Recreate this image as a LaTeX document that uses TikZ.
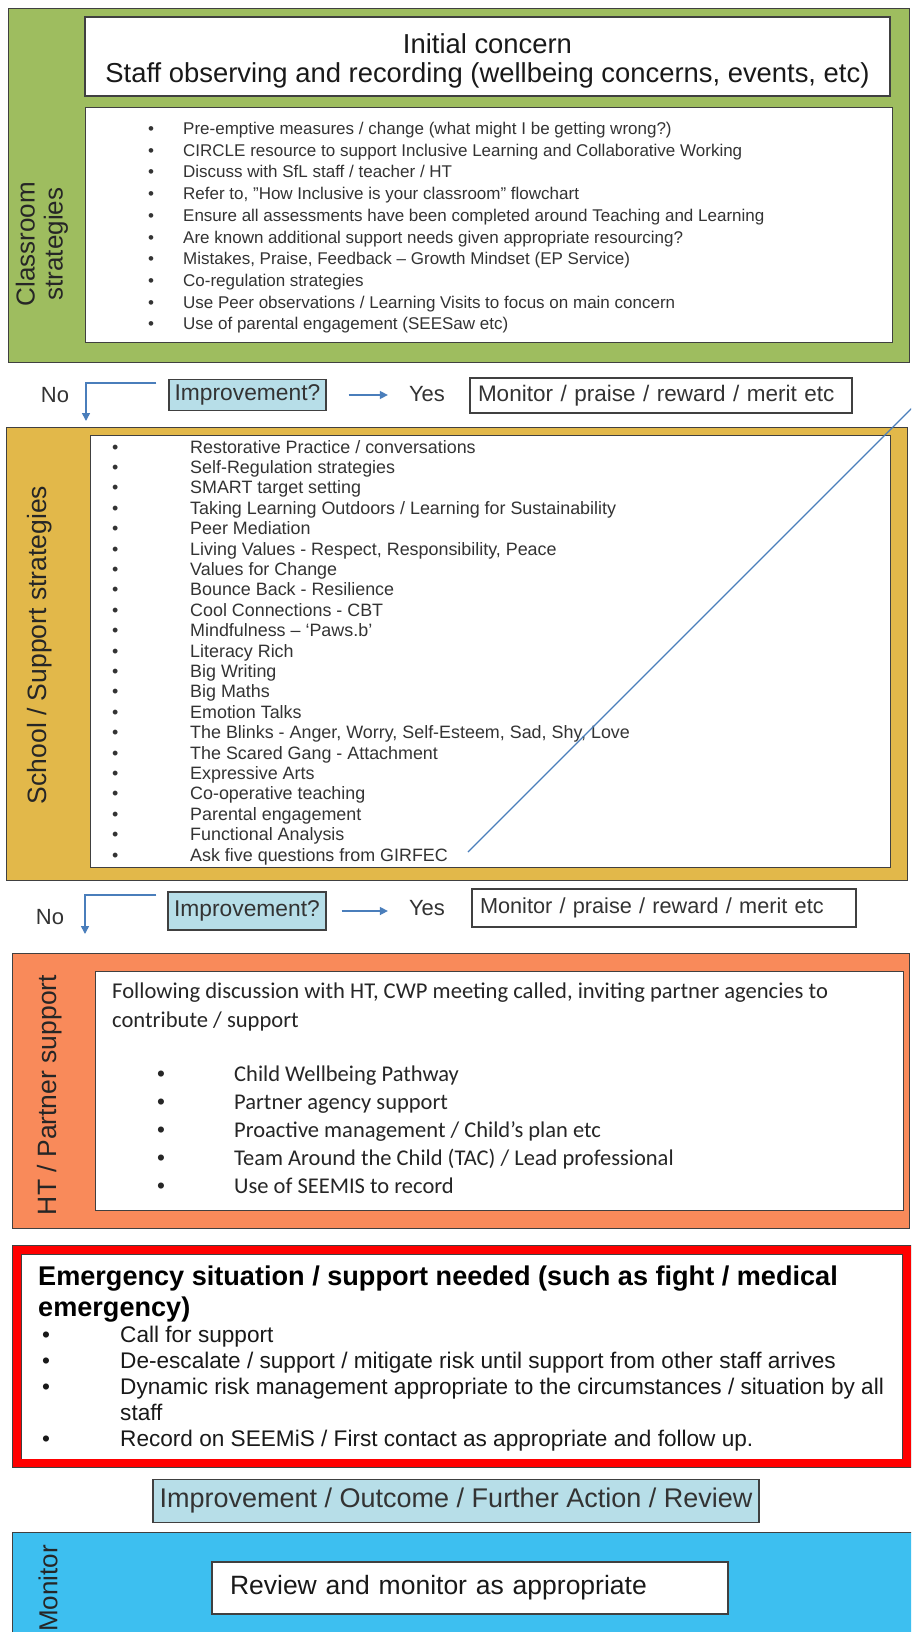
\documentclass[tikz,border=0pt]{standalone}
\usepackage{fontspec}
\setmainfont{Liberation Sans}
\newfontfamily\calibrifont{Carlito}
\newfontfamily\dotfont{Liberation Sans}
\usetikzlibrary{positioning,arrows.meta}

\definecolor{classgreen}{HTML}{9EBD5F}
\definecolor{schoolgold}{HTML}{E2B84A}
\definecolor{partnerorange}{HTML}{F98A5A}
\definecolor{alertred}{HTML}{FF0000}
\definecolor{monitorblue}{HTML}{3DBFF0}
\definecolor{askblue}{HTML}{B7DEE8}
\definecolor{arrowblue}{HTML}{4A7EBB}
\definecolor{edgegrey}{HTML}{404040}
\definecolor{inkgrey}{HTML}{333333}

\newcommand{\blt}[2][78pt]{\makebox[#1][l]{{\dotfont\textbullet}}#2}

\tikzstyle{panel} = [draw=edgegrey,line width=1pt,rectangle,anchor=north west,inner sep=0pt]
\tikzstyle{card} = [draw=edgegrey,line width=1.2pt,fill=white,rectangle,inner sep=0pt,text=inkgrey]
\tikzstyle{askbox} = [draw=edgegrey,line width=1.2pt,fill=askblue,rectangle,inner sep=0pt,text=inkgrey]
\tikzstyle{items} = [anchor=north west,align=left,inner sep=0pt,text=inkgrey]
\tikzstyle{sidelabel} = [rotate=90,inner sep=0pt,text=black!85]
\tikzstyle{plain} = [inner sep=0pt,text=inkgrey,font=\fontsize{22}{24}\selectfont]
\tikzstyle{flow} = [draw=arrowblue,line width=1.5pt,>={Triangle[length=8pt,width=8pt]}]
\tikzstyle{pointer} = [draw=arrowblue,line width=1.2pt]
\tikzstyle{alertbox} = [draw=edgegrey,line width=0.8pt,double=alertred,double distance=8pt,fill=white,rectangle,inner sep=0pt,anchor=north west]

\begin{document}
\begin{tikzpicture}[x=1pt,y=-1pt]
	\useasboundingbox (0,0) rectangle (911,1632);
	\clip (0,0) rectangle (911,1632);
	\fill [white] (0,0) rectangle (911,1632);
	% classroom strategies
	\node (classroom) [panel,fill=classgreen,minimum width=901pt,minimum height=354pt] at (8,8) {};
	\node (classlabel) [sidelabel,align=center,font=\fontsize{26}{28}\selectfont] at (42,244) {Classroom\\strategies};
	\node (concern) [card,minimum width=805pt,minimum height=79pt] at (487.5,56.5) {};
	\node (concerntext) [align=center,inner sep=0pt,text=black!90,font=\fontsize{27.4}{29}\selectfont] at ([yshift=-4pt]concern.center) {Initial concern\\Staff observing and recording (wellbeing concerns, events, etc)};
	\node (classlist) [card,anchor=north west,minimum width=807pt,minimum height=235pt] at (85,107) {};
	\node (classitems) [items,font=\fontsize{17}{21.7}\selectfont] at (148,122) {\blt[35pt]{Pre-emptive measures / change (what might I be getting wrong?)}\\
		\blt[35pt]{CIRCLE resource to support Inclusive Learning and Collaborative Working}\\
		\blt[35pt]{Discuss with SfL staff / teacher / HT}\\
		\blt[35pt]{Refer to, "How Inclusive is your classroom" flowchart}\\
		\blt[35pt]{Ensure all assessments have been completed around Teaching and Learning}\\
		\blt[35pt]{Are known additional support needs given appropriate resourcing?}\\
		\blt[35pt]{Mistakes, Praise, Feedback – Growth Mindset (EP Service)}\\
		\blt[35pt]{Co-regulation strategies}\\
		\blt[35pt]{Use Peer observations / Learning Visits to focus on main concern}\\
		\blt[35pt]{Use of parental engagement (SEESaw etc)}};
	% first check
	\node (impA) [askbox,minimum width=157pt,minimum height=31pt,font=\fontsize{22.8}{24}\selectfont] at (247.5,395) {Improvement?};
	\node (noA) [plain] at (55,395) {No};
	\node (yesA) [plain] at (427,394) {Yes};
	\node (monA) [card,text width=366pt,inner xsep=8pt,minimum height=35pt,align=left,font=\fontsize{22.5}{24}\selectfont] at (661,395.5) {Monitor / praise / reward / merit etc};
	\coordinate (noAtip) at (86,421);
	% school / support strategies
	\node (school) [panel,fill=schoolgold,minimum width=901pt,minimum height=453pt] at (6,427) {};
	\node (schoollabel) [sidelabel,font=\fontsize{26.5}{28}\selectfont] at (40,645) {School / Support strategies};
	\node (schoollist) [card,anchor=north west,minimum width=800pt,minimum height=432pt] at (90,435) {};
	\node (schoolitems) [items,font=\fontsize{17.9}{20.4}\selectfont] at (112,440) {\blt{Restorative Practice / conversations}\\
		\blt{Self-Regulation strategies}\\
		\blt{SMART target setting}\\
		\blt{Taking Learning Outdoors / Learning for Sustainability}\\
		\blt{Peer Mediation}\\
		\blt{Living Values - Respect, Responsibility, Peace}\\
		\blt{Values for Change}\\
		\blt{Bounce Back - Resilience}\\
		\blt{Cool Connections - CBT}\\
		\blt{Mindfulness – ‘Paws.b’}\\
		\blt{Literacy Rich}\\
		\blt{Big Writing}\\
		\blt{Big Maths}\\
		\blt{Emotion Talks}\\
		\blt{The Blinks - Anger, Worry, Self-Esteem, Sad, Shy, Love}\\
		\blt{The Scared Gang - Attachment}\\
		\blt{Expressive Arts}\\
		\blt{Co-operative teaching}\\
		\blt{Parental engagement}\\
		\blt{Functional Analysis}\\
		\blt{Ask five questions from GIRFEC}};
	\coordinate (girfec) at (468,852);
	\coordinate (offpage) at (935,385);
	% second check
	\node (impB) [askbox,minimum width=158pt,minimum height=38pt,font=\fontsize{22.8}{24}\selectfont] at (247,911) {Improvement?};
	\node (noB) [plain] at (50,917) {No};
	\node (yesB) [plain] at (427,908) {Yes};
	\node (monB) [card,text width=368pt,inner xsep=8pt,minimum height=38pt,align=left,font=\fontsize{21.7}{24}\selectfont] at (664,908) {Monitor / praise / reward / merit etc};
	\coordinate (noBtip) at (85,934);
	% HT / partner support
	\node (partner) [panel,fill=partnerorange,minimum width=897pt,minimum height=275pt] at (12,953) {};
	\node (partnerlabel) [sidelabel,font=\fontsize{26.5}{28}\selectfont] at (50,1095) {HT / Partner support};
	\node (partnerbox) [card,anchor=north west,minimum width=808pt,minimum height=239pt] at (95,971) {};
	\node (cwp) [items,text=black!85,font=\calibrifont\fontsize{22.6}{29}\selectfont] at (112,983) {Following discussion with HT, CWP meeting called, inviting partner agencies to\\contribute / support};
	\node (cwpitems) [items,text=black!85,font=\calibrifont\fontsize{22.5}{28}\selectfont] at (157,1066) {\blt[77pt]{Child Wellbeing Pathway}\\
		\blt[77pt]{Partner agency support}\\
		\blt[77pt]{Proactive management / Child’s plan etc}\\
		\blt[77pt]{Team Around the Child (TAC) / Lead professional}\\
		\blt[77pt]{Use of SEEMIS to record}};
	% emergency
	\node (emergency) [alertbox,minimum width=890pt,minimum height=213.5pt] at (16.5,1249.5) {};
	\node (emhead) [items,text=black,font=\bfseries\fontsize{27.1}{31}\selectfont] at (38,1266) {Emergency situation / support needed (such as fight / medical\\emergency)};
	\node (emitems) [items,text=black!90,font=\fontsize{22.6}{26}\selectfont] at (42,1326) {\blt{Call for support}\\
		\blt{De-escalate / support / mitigate risk until support from other staff arrives}\\
		\blt{Dynamic risk management appropriate to the circumstances / situation by all}\\
		\hspace*{78pt}staff\\
		\blt{Record on SEEMiS / First contact as appropriate and follow up.}};
	% outcome and monitor
	\node (outcome) [askbox,minimum width=606pt,minimum height=43pt,font=\fontsize{27}{29}\selectfont] at (456,1501) {Improvement / Outcome / Further Action / Review};
	\node (monitor) [panel,fill=monitorblue,minimum width=910pt,minimum height=110pt] at (12,1532) {};
	\node (monitorlabel) [sidelabel,anchor=east,font=\fontsize{26}{28}\selectfont] at (48,1545) {Monitor};
	\node (review) [card,text width=480pt,inner xsep=18pt,minimum height=52pt,align=left,text=black!90,font=\fontsize{26.5}{29}\selectfont] at (470,1588) {Review and monitor as appropriate};
	% connections
	\draw [flow,->] ([xshift=-12pt,yshift=12pt]impA.west) -| (noAtip);
	\draw [flow,->] ([xshift=22pt]impA.east) -- ([xshift=-21pt]yesA.west |- impA.east);
	\draw [pointer] (girfec) -- (offpage);
	\draw [flow,->] ([xshift=-11pt,yshift=16pt]impB.west) -| (noBtip);
	\draw [flow,->] ([xshift=15pt]impB.east) -- ([xshift=-21pt]yesB.west |- impB.east);
\end{tikzpicture}
\end{document}
